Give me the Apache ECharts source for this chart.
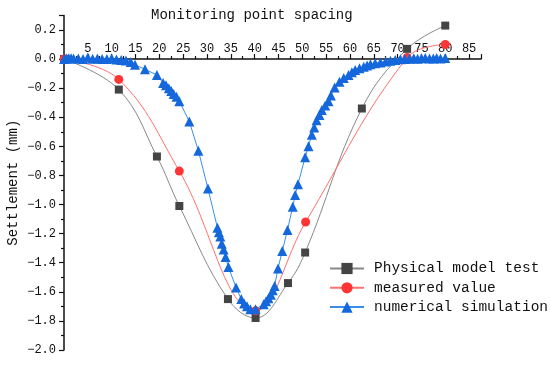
<!DOCTYPE html>
<html><head><meta charset="utf-8">
<script src="https://cdn.jsdelivr.net/npm/echarts@6/dist/echarts.min.js"></script>
<style>html,body{margin:0;padding:0;background:#fff}#c{width:550px;height:366px}</style>
</head><body><div id="c"></div>
<script>
// Physical model test
var physX = [0, 11.5, 19.5, 24.2, 34.4, 40.2, 47, 50.6, 62.5, 72, 80];
var physY = [0, -0.21, -0.67, -1.01, -1.65, -1.78, -1.54, -1.33, -0.34, 0.07, 0.23];
// measured value
var measX = [0, 11.5, 24.2, 40.2, 50.7, 72, 80];
var measY = [0, -0.14, -0.77, -1.73, -1.12, 0.01, 0.10];
// numerical simulation
var simX = [0,0.5,1,1.5,2,3,4,5,6,7,8,9,10,11,12,13,14,14.9,17,19.5,20.8,21.4,22,22.5,23,23.6,24.2,26.3,28.2,30.2,32.2,32.5,32.8,33.1,33.5,33.9,34.5,36.1,37.2,37.8,38.4,39.1,40.2,41.9,42.4,42.9,43.4,43.8,44.2,44.9,45.8,46.9,48,48.5,49.1,50.6,51.3,52,52.5,53,53.6,54.1,54.8,55.5,56,56.8,57.8,58.7,59.7,60.4,61.1,62,62.9,63.6,64.3,65.3,66.4,67.5,68.5,69.5,70.6,71.5,72.5,73.4,74.2,75,75.8,76.7,77.5,78.2,79,80];
var simY = [0,0.004,0.006,0.005,0.004,0.003,0.001,0.01,0.002,0.003,0,0.001,0.006,-0.003,-0.006,-0.01,-0.02,-0.04,-0.07,-0.11,-0.165,-0.18,-0.2,-0.22,-0.24,-0.26,-0.29,-0.43,-0.63,-0.89,-1.16,-1.19,-1.22,-1.27,-1.31,-1.36,-1.43,-1.57,-1.65,-1.68,-1.70,-1.72,-1.72,-1.685,-1.665,-1.645,-1.62,-1.59,-1.56,-1.44,-1.32,-1.175,-1.015,-0.935,-0.86,-0.675,-0.6,-0.52,-0.47,-0.42,-0.385,-0.35,-0.32,-0.29,-0.25,-0.195,-0.156,-0.13,-0.11,-0.09,-0.076,-0.064,-0.053,-0.044,-0.036,-0.029,-0.023,-0.017,-0.012,-0.007,-0.002,0,0.002,0.005,0.002,0.006,0.008,0.003,0.004,0.007,0.003,0.008];

var seriesNames = ['Physical model test', 'measured value', 'numerical simulation'];
var xTitle = 'Monitoring point spacing';
var yTitle = 'Settlement (mm)';

function pairs(xs, ys){ return xs.map(function(x,i){ return [x, ys[i]]; }); }

var FONT = 'Liberation Mono';
var Y_MIN = -2, Y_MAX = 0.3;
var GRID_TOP = 15.4, GRID_BOTTOM = 16, H = 366;
var plotH = H - GRID_TOP - GRID_BOTTOM;
var zeroOffset = -(Y_MAX / (Y_MAX - Y_MIN)) * plotH;

var chart = echarts.init(document.getElementById('c'), null, {renderer:'canvas'});
chart.setOption({
  animation: false,
  backgroundColor: '#fff',
  title: {
    text: xTitle, left: 146, top: 3,
    textStyle: {fontFamily: FONT, fontSize: 14, fontWeight: 'normal', color: '#111'}
  },
  grid: {left: 64, right: 69, top: GRID_TOP, bottom: GRID_BOTTOM, containLabel: false, outerBoundsMode: 'none'},
  legend: {
    orient: 'vertical', left: 324, top: 256, itemWidth: 34, itemHeight: 14, itemGap: 4.3,
    data: seriesNames,
    textStyle: {fontFamily: FONT, fontSize: 14.5, color: '#111', padding: [0,0,0,5]}
  },
  xAxis: {
    type: 'value', position: 'top', min: 0, max: 87.5, interval: 5, offset: zeroOffset,
    axisLine: {onZero: false, lineStyle: {color: '#111', width: 1.5}},
    axisTick: {show: true, inside: false, length: 5, lineStyle: {color: '#111', width: 1.2}},
    minorTick: {show: true, splitNumber: 2, length: 3, lineStyle: {color: '#111', width: 1.2}},
    axisLabel: {showMinLabel: false, showMaxLabel: false, margin: 4, fontFamily: FONT, fontSize: 12, color: '#111'},
    splitLine: {show: false}
  },
  yAxis: {
    type: 'value', min: Y_MIN, max: Y_MAX, interval: 0.2,
    name: yTitle, nameLocation: 'middle', nameRotate: 90, nameGap: 44, nameMoveOverlap: false,
    nameTextStyle: {fontFamily: FONT, fontSize: 14, color: '#111'},
    axisLine: {lineStyle: {color: '#111', width: 1.5}},
    axisTick: {show: true, length: 5, lineStyle: {color: '#111', width: 1.2}},
    minorTick: {show: true, splitNumber: 2, length: 3, lineStyle: {color: '#111', width: 1.2}},
    axisLabel: {showMaxLabel: false, margin: 8, fontFamily: FONT, fontSize: 12, color: '#111',
      formatter: function(v){ return v.toFixed(1).replace('-', '\u2212'); }},
    splitLine: {show: false}
  },
  series: [
    {name: seriesNames[0], type: 'line', data: pairs(physX, physY), smooth: 0.4,
     symbol: 'rect', symbolSize: 8, lineStyle: {color: '#888', width: 1},
     itemStyle: {color: '#444'}},
    {name: seriesNames[1], type: 'line', data: pairs(measX, measY), smooth: 0.4,
     symbol: 'circle', symbolSize: 9, lineStyle: {color: '#ff7070', width: 1},
     itemStyle: {color: '#ff3535'}},
    {name: seriesNames[2], type: 'line', data: pairs(simX, simY), smooth: false,
     symbol: 'triangle', symbolSize: 10, lineStyle: {color: '#3a8ee8', width: 1},
     itemStyle: {color: '#1468dc'}}
  ]
});
</script></body></html>
